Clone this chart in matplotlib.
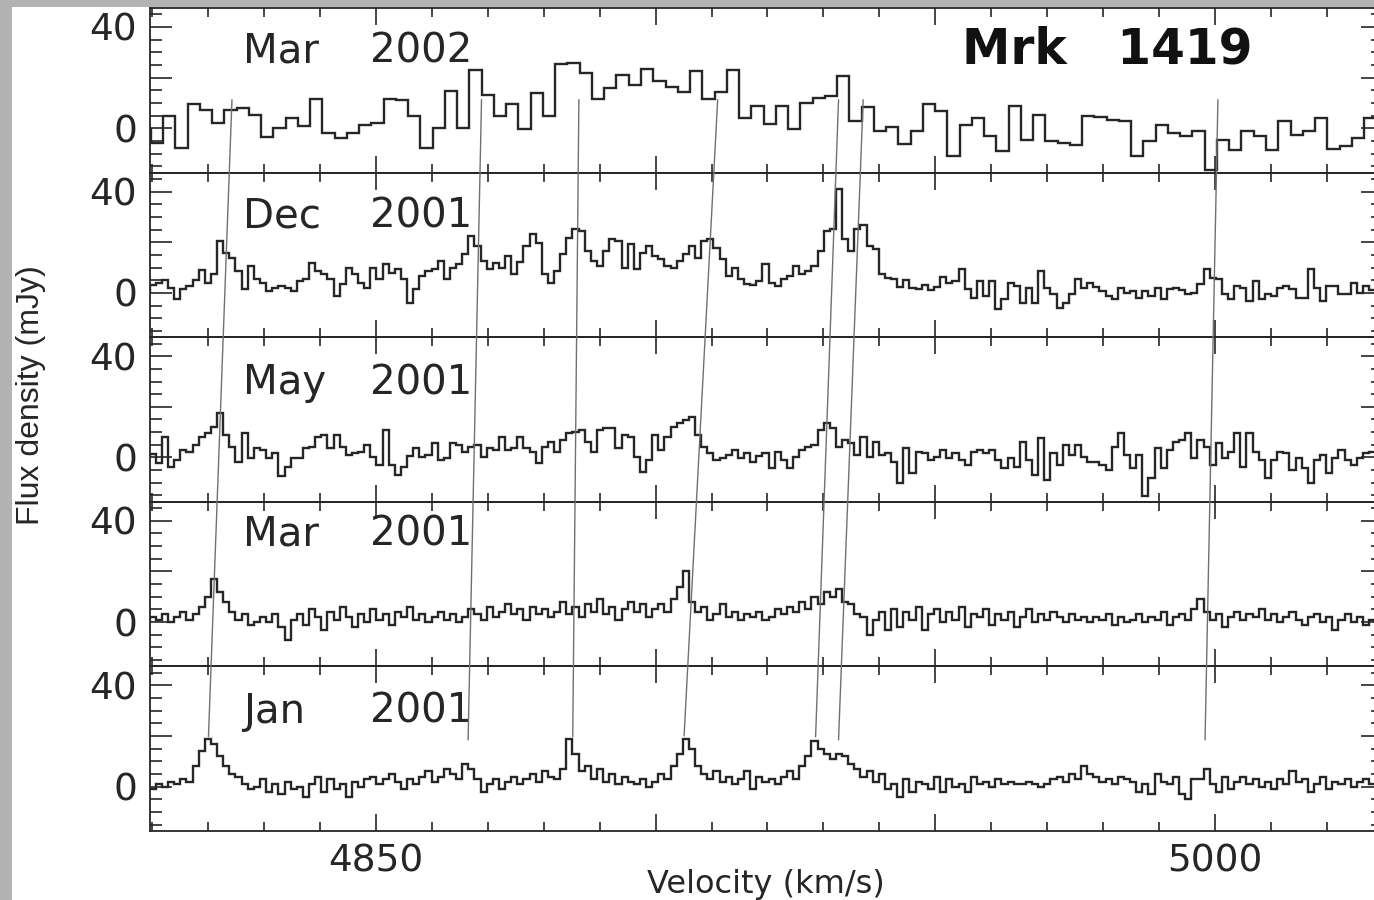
import matplotlib
matplotlib.use("Agg")
import matplotlib.pyplot as plt
import numpy as np
from matplotlib.patches import ConnectionPatch, Rectangle
from matplotlib.ticker import FixedLocator, FuncFormatter, MultipleLocator

# ---- data ---------------------------------------------------------------
months = ["Mar", "Dec", "May", "Mar", "Jan"]
years = ["2002", "2001", "2001", "2001", "2001"]
label_y = [30.2, 30.2, 29.4, 34.5, 29.6]

# Mar 2002 uses coarser channels than the 2001 epochs
top_v0, top_dv = 4809.8, 2.19
low_v0, low_dv = 4809.6, 1.095

flux_mar02 = [
    -5.8, 4.7, -7.8, 9.4, 7.4, 2.1, 7.4, 8.1, 5.4, -3.6,
    0.1, 4.1, 0.8, 11.7, -1.8, -3.8, -1.8, 1.2, 2.1, 11.7,
    11.1, 4.7, -7.8, 0.1, 14.6, 0.1, 23.2, 13.3, 4.7, 9.4,
    -0.3, 14.0, 4.7, 25.2, 25.8, 21.9, 11.7, 15.9, 21.0, 17.2,
    23.5, 18.8, 16.2, 14.4, 22.5, 11.7, 14.4, 23.2, 4.1, 8.7,
    1.7, 8.7, -0.2, 10.0, 12.0, 12.6, 20.6, 2.8, 8.3, -1.2,
    0.4, -6.4, -1.2, 9.4, 6.7, -11.1, 1.4, 4.0, -3.2, -9.1,
    8.7, -4.5, 5.4, -4.9, -5.8, -6.7, 4.7, 4.3, 3.4, 2.8,
    -11.1, -5.1, 1.4, -1.9, -3.2, -0.9, -16.5, -4.5, -8.4, -1.2,
    -3.2, -8.4, 2.8, -2.5, -1.2, 4.0, -8.0, -7.1, -3.8, 4.0,
]

flux_dec01 = [
    3, 4, 5, 2, -2.5, 1.4, 2.7, 5, 9, 4,
    7.3, 20.5, 15.9, 13.9, 8.6, 1.4, 10.6, 5.4, 4.1, 0.8,
    2.1, 2.7, 2, 0.8, 4.7, 5.4, 11.9, 8.6, 7.3, 5.4,
    -1.2, 3.4, 10, 7.3, 4.1, 2.1, 10, 5.4, 11.3, 8,
    9.3, 5.4, -3.8, 1.4, 6.7, 8.6, 9.3, 12.6, 5.4, 10,
    11.3, 15.2, 22.4, 18.5, 12.6, 9.3, 11.9, 10, 14.6, 7.3,
    12, 18.5, 23.1, 19.8, 7.3, 4.1, 8.6, 15.2, 21.8, 25.1,
    24.4, 16.5, 12.6, 10.6, 16.5, 21.1, 20.5, 10, 19.2, 9.3,
    15.9, 18.5, 14.6, 13.2, 10.6, 10, 12.6, 15.2, 18.5, 13.9,
    20.5, 21.1, 17.8, 13.2, 6.7, 10, 5.4, 3.4, 3.0, 4.5,
    11.3, 4.1, 2.7, 5.4, 6.7, 10.6, 7.3, 8.6, 10.6, 16.5,
    24.4, 25.1, 41, 21.1, 16.5, 25.3, 27.0, 18.5, 17.2, 7.3,
    6, 5.4, 2.5, 5, 2.1, 1.4, 3, 1.2, 2.5, 6.4,
    4.1, 4.7, 9.3, 1.4, -1.9, 4.7, -1.2, 4.7, -6.5, -2.5,
    4.1, 2.7, -3.8, 2.1, -3.8, 8.6, 2.1, -0.6, -5.8, -3.8,
    -0.6, 5.6, 2.1, 4.1, 2.5, 0.8, -1.2, -2.5, 2.1, 0.1,
    0.8, -1.9, 0.8, -1.2, 2.1, -2.5, 1.4, 2.1, 1.2, -0.6,
    -0.2, 3.4, 9.3, 6, 5.4, -0.6, -2.5, 2.7, 2.1, -3.2,
    4.7, -2.5, -0.6, -1.2, 2.1, 2.7, 1.4, -1.9, -1.9, 9.3,
    2.1, -3.2, 2.7, 2.7, -0.6, -0.6, 4.1, 0.1, 2.7, 1.0,
    3.0, 0.5,
]

flux_may01 = [
    1.5, -2.0, 8.2, -3.6, -1.0, 3.0, 2.3, 5.0, 8.2, 9.5,
    12.2, 17.4, 8.9, 4.3, -1.6, 9.5, -0.3, 3.6, 3.0, -0.3,
    1.7, -7.5, -3.6, -0.3, -0.3, 3.6, 4.3, 8.2, 8.9, 3.6,
    8.9, 4.0, 1.0, 1.7, 2.0, 5.0, 0.3, -3.0, 10.8, -3.0,
    -6.9, -3.6, 0.5, 3.6, 0.3, 1.0, 5.6, -1.0, -0.3, 5.6,
    5.0, 2.0, 4.3, 5.0, 0.3, 3.6, 3.0, 8.2, 3.0, 3.6,
    8.2, 3.6, 2.3, -2.3, 4.3, 6.2, 2.3, 6.9, 9.5, 10.2,
    10.8, 6.0, 2.3, 10.8, 11.5, 11.5, 3.6, 8.9, 8.2, 0.3,
    -5.6, -1.0, 8.9, 3.0, 8.2, 12.2, 13.5, 14.8, 16.1, 8.9,
    4.3, 1.7, -1.0, -0.3, 1.0, 3.0, -0.3, 1.7, -1.6, 0.5,
    1.7, -4.3, 2.3, -1.0, -4.3, 0.3, 3.0, 4.3, 5.0, 10.8,
    13.7, 11.5, 4.3, 6.9, 5.6, 1.0, 8.2, 0.3, 6.2, 1.0,
    1.7, -1.6, -10.2, 3.6, -6.2, 2.3, 1.7, -1.0, 0.3, 3.0,
    -0.3, 1.7, -1.0, -3.0, 2.3, 3.0, 1.7, 3.0, -1.0, -4.3,
    -0.3, -3.6, 6.2, -1.0, -6.9, 7.6, -8.9, 1.7, -3.0, 5.0,
    1.0, 5.0, 0.3, -1.6, -1.6, -3.0, -4.9, 4.3, 9.5, 1.0,
    -4.3, 1.0, -15.4, -8.2, 3.6, -4.3, 3.0, 6.2, 6.9, 9.5,
    -0.3, 6.9, 4.3, -3.0, 5.6, -0.3, 2.3, 9.5, -3.6, 9.5,
    2.3, -1.0, -8.2, -1.0, 2.3, 1.7, -4.9, -0.3, -4.3, -10.2,
    -1.0, 1.0, -6.2, -0.3, 3.0, -1.0, -3.0, -0.3, 1.7, 2.3,
    -4.9, -0.3,
]

flux_mar01 = [
    2, 1, 3, 0, 2, 4, 1, 3, 6, 10,
    17, 12, 8, 4, 1, 3, -1, 0, 2, 0,
    3, -2, -7, 1, 3, -1, 5, 2, -3, 4,
    1, 6, 2, -2, 3, 0, 5, 1, 3, -1,
    4, 2, 6, 1, 3, 0, 2, 4, 1, 3,
    0, 2, 5, 3, 1, 6, 2, 4, 7, 3,
    5, 1, 6, 3, 5, 2, 4, 8, 3, 6,
    2, 7, 4, 9, 3, 6, 1, 5, 8, 4,
    7, 2, 5, 7, 4, 9, 14, 20, 8, 4,
    6, 1, 3, 7, 2, 4, 1, 3, 2, 4,
    1, 2, 5, 3, 6, 4, 8, 5, 10, 7,
    12, 10, 13, 8, 7, 3, 2, -5, 1, 4,
    -3, 5, -2, 4, 1, 6, -3, 3, 5, 0,
    4, 1, 6, -2, 3, 2, 5, -1, 3, 1,
    4, -2, 2, 5, 0, 3, 1, 4, 2, 0,
    3, 1, 2, 0, 2, 1, 3, -1, 2, 0,
    1, 3, 0, 2, 1, 4, -1, 2, 3, 1,
    5, 9, 4, 1, 3, -2, 2, 4, 1, 3,
    2, 5, 1, 3, 0, 2, 4, 1, -1, 2,
    3, 0, 2, -3, 1, 3, 0, 2, -1, 1,
    2, 0,
]

flux_jan01 = [
    -1, 1, 0, 2, 1, 3, 2, 8, 14, 19,
    17, 12, 8, 5, 4, 1, -1, 0, 3, -2,
    1, -3, 2, -1, 0, -4, 1, 4, -2, 3,
    -1, 1, -4, 2, 0, 3, 4, 1, 3, 5,
    2, -1, 3, 1, 4, 6, 2, 4, 7, 5,
    3, 9, 7, 3, -2, 1, 3, -1, 2, 4,
    1, 3, 5, 2, 6, 4, 3, 7, 19, 13,
    6, 8, 3, 7, 2, 5, 1, 4, 2, 1,
    3, 0, 2, 5, 3, 8, 13, 19, 15, 8,
    5, 3, 6, 2, 4, 1, 3, 6, -1, 4,
    2, 3, 1, 4, 6, 3, 8, 12, 18, 15,
    13, 11, 13, 12, 9, 7, 4, 6, 2, 5,
    -1, 1, -4, 3, -2, 2, 1, -1, 4, -2,
    3, 0, 1, -2, 4, 1, 2, 0, 3, 1,
    2, 1, 1, 2, 1, 0, 1, 3, 4, 2,
    5, 3, 8, 5, 4, 2, 3, 1, 4, 3,
    2, -2, 1, -3, 5, 2, 1, 4, -3, -5,
    3, 3, 7, 1, -2, 4, -1, 2, 4, 1,
    3, 0, 2, -1, 3, 1, 6, 2, 3, -2,
    1, 4, -1, 2, 1, 3, 0, 2, 3, 1,
    4, 2,
]

# hand-drawn tracks linking the same feature across epochs
track_v_jan = [4820.1, 4866.5, 4885.2, 4905.1, 4928.6, 4932.7, 4998.2]
track_v_mar02 = [4824.3, 4868.9, 4886.3, 4911.1, 4932.7, 4937.1, 5000.5]
track_y_jan = [19.7, 18.5, 19.7, 20.1, 19.7, 18.5, 18.5]
track_y_mar02 = 11.3

# ---- figure ---------------------------------------------------------------
W, H = 1374, 900
fig = plt.figure(figsize=(W / 100, H / 100), dpi=100)
fig.patch.set_facecolor("#b3b3b3")
fig.add_artist(Rectangle((12 / W, 0), 1, (H - 7) / H, transform=fig.transFigure,
                         facecolor="white", edgecolor="none", zorder=-5))

ink = "#262626"
left_px, right_px = 149.7, 1383
top_px, panel_px = 8, 164.6

spectra = [flux_mar02, flux_dec01, flux_may01, flux_mar01, flux_jan01]
axes = []
for k, flux in enumerate(spectra):
    b = 1 - (top_px + panel_px * (k + 1)) / H
    ax = fig.add_axes([left_px / W, b, (right_px - left_px) / W, panel_px / H])
    ax.set_facecolor("none")
    if k == 0:
        edges = top_v0 + top_dv * np.arange(len(flux) + 1)
    else:
        edges = low_v0 + low_dv * np.arange(len(flux) + 1)
    ax.stairs(flux, edges, color=ink, lw=1.7)
    ax.set_xlim(4809.6, 5030)
    ax.set_ylim(-17.5, 47.5)

    ax.xaxis.set_major_locator(MultipleLocator(50))
    ax.xaxis.set_minor_locator(MultipleLocator(10))
    ax.yaxis.set_major_locator(FixedLocator([0, 20, 40]))
    ax.yaxis.set_minor_locator(MultipleLocator(5))
    ax.tick_params(which="both", direction="in", top=True, right=True,
                   color=ink, width=1.2, labelcolor=ink)
    ax.tick_params(axis="x", which="major", length=12)
    ax.tick_params(axis="x", which="minor", length=6.5)
    ax.tick_params(axis="y", which="major", length=15.5, pad=9, labelsize=27)
    ax.tick_params(axis="y", which="minor", length=8.5)
    ax.yaxis.set_major_formatter(FuncFormatter(lambda v, p: "%d" % v if v in (0, 40) else ""))
    if k == len(spectra) - 1:
        ax.xaxis.set_major_formatter(FuncFormatter(lambda v, p: "%d" % v if v in (4850, 5000) else ""))
        ax.tick_params(axis="x", labelsize=27, pad=9)
    else:
        ax.tick_params(axis="x", labelbottom=False)
    for s in ax.spines.values():
        s.set_color(ink)
        s.set_linewidth(1.3)

    ax.text(4826.3, label_y[k], months[k], fontsize=29, color=ink,
            ha="left", va="center")
    ax.text(4849.0, label_y[k], years[k], fontsize=29, color=ink,
            ha="left", va="center")
    axes.append(ax)

axes[0].text(4954.8, 31, "Mrk   1419", fontsize=35, fontweight="bold",
             color="#111111", ha="left", va="center")

for vj, vm, yj in zip(track_v_jan, track_v_mar02, track_y_jan):
    con = ConnectionPatch(xyA=(vj, yj), coordsA=axes[-1].transData,
                          xyB=(vm, track_y_mar02), coordsB=axes[0].transData,
                          color="#707070", lw=1.0, zorder=10)
    fig.add_artist(con)

fig.text(766 / W, 1 - 885 / H, "Velocity (km/s)", fontsize=23, color=ink,
         ha="center", va="center")
fig.text(31 / W, 1 - 395 / H, "Flux density (mJy)", fontsize=23, color=ink,
         rotation=90, ha="center", va="center",
         family=["Liberation Sans", "DejaVu Sans"])

fig.savefig("out.png", dpi=100, facecolor=fig.get_facecolor())
